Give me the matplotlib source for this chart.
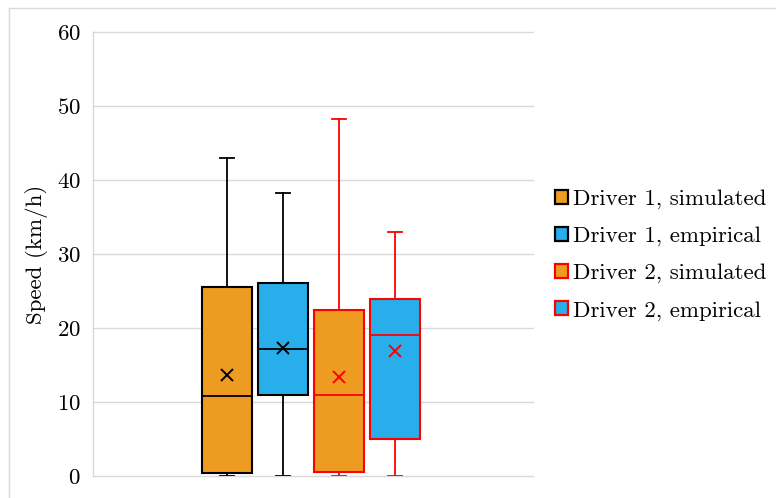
import matplotlib
matplotlib.use("Agg")
import matplotlib.pyplot as plt
from matplotlib.patches import Patch
from matplotlib.lines import Line2D

plt.rcParams['font.family'] = ['cmr10', 'DejaVu Serif']
plt.rcParams['axes.formatter.use_mathtext'] = True
plt.rcParams['mathtext.fontset'] = 'cm'

# Box statistics (km/h)
labels = ["Driver 1, simulated", "Driver 1, empirical",
          "Driver 2, simulated", "Driver 2, empirical"]
whislo = [0.0, 0.0, 0.0, 0.0]
q1 = [0.4, 10.9, 0.5, 5.0]
med = [10.8, 17.1, 10.9, 19.0]
q3 = [25.6, 26.1, 22.4, 23.9]
whishi = [43.0, 38.3, 48.2, 33.0]
mean = [13.6, 17.3, 13.4, 16.9]

face_colors = ["#EE9C21", "#27AEEB", "#EE9C21", "#27AEEB"]
edge_colors = ["#000000", "#000000", "#FF0000", "#FF0000"]
grid_color = "#D9D9D9"
fs = 16.5

fig = plt.figure(figsize=(7.76, 4.98), dpi=100)
ax = fig.add_axes([93 / 776, 1 - 476 / 498, 440 / 776, 444 / 498])

positions = [1, 2, 3, 4]
for i, pos in enumerate(positions):
    stats = [dict(label=labels[i], whislo=whislo[i], q1=q1[i], med=med[i],
                  q3=q3[i], whishi=whishi[i], mean=mean[i], fliers=[])]
    ec = edge_colors[i]
    ax.bxp(stats, positions=[pos], widths=0.89, capwidths=0.25,
           patch_artist=True, showmeans=True, showfliers=False,
           boxprops=dict(facecolor=face_colors[i], edgecolor=ec, linewidth=1.5),
           medianprops=dict(color=ec, linewidth=1.3),
           whiskerprops=dict(color=ec, linewidth=1.3),
           capprops=dict(color=ec, linewidth=1.3),
           meanprops=dict(marker='x', markeredgecolor=ec, markerfacecolor=ec,
                          markersize=8, markeredgewidth=1.4),
           zorder=3)

ax.set_xlim(1 - 134 / 56, 1 - 134 / 56 + 440 / 56)
ax.set_ylim(0, 60)
ax.set_yticks(range(0, 61, 10))
ax.set_xticks([])
ax.yaxis.grid(True, color=grid_color, linewidth=1.0, zorder=0, clip_on=False)
ax.set_axisbelow(True)
for side in ["top", "right", "bottom"]:
    ax.spines[side].set_visible(False)
ax.spines["left"].set_color(grid_color)
ax.spines["left"].set_linewidth(1.0)
ax.tick_params(axis='y', length=0, pad=9, labelsize=fs)
ax.set_ylabel("Speed (km/h)", fontsize=fs, labelpad=6)

handles = [Patch(facecolor=face_colors[i], edgecolor=edge_colors[i],
                 linewidth=1.6, label=labels[i]) for i in range(4)]
fig.legend(handles=handles, loc='center left',
           bbox_to_anchor=(534 / 776, 1 - 255 / 498), frameon=False,
           fontsize=fs, handlelength=0.6, handleheight=0.6,
           handletextpad=0.2, labelspacing=0.75)

# thin frame around the figure
fig.add_artist(Line2D([9 / 776, 1], [1 - 8 / 498, 1 - 8 / 498],
                      transform=fig.transFigure, color=grid_color, linewidth=1.0))
fig.add_artist(Line2D([9 / 776, 9 / 776], [0, 1 - 8 / 498],
                      transform=fig.transFigure, color=grid_color, linewidth=1.0))

fig.savefig("out.png", dpi=100)
